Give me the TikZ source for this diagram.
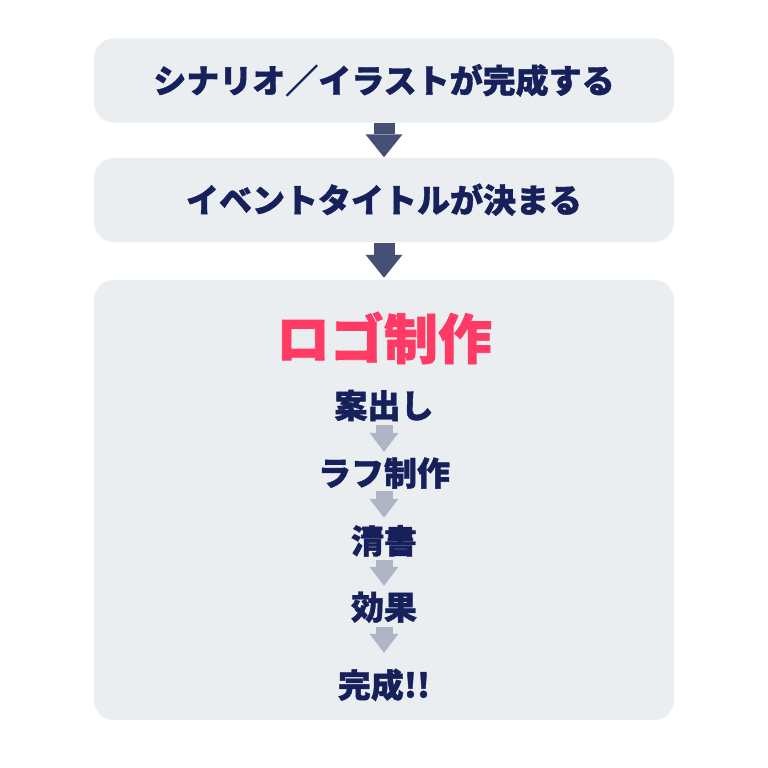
\documentclass[tikz,border=0pt]{standalone}
\usepackage{fontspec}
\newfontfamily\jpfont{Noto Sans CJK JP Black}[FakeBold=1.2]
\usepackage{xcolor}
\definecolor{Flow-box}{RGB}{235, 238, 241}
\definecolor{Flow-navy}{RGB}{22, 33, 92}
\definecolor{Flow-arrow}{RGB}{70, 80, 117}
\definecolor{Flow-grey}{RGB}{176, 181, 197}
\definecolor{Flow-pink}{RGB}{255, 58, 100}
\usetikzlibrary{arrows.meta,positioning,calc}

\begin{document}
\begin{tikzpicture} [
    x=1pt, y=-1pt,
    font=\jpfont\fontsize{33}{33}\selectfont,
    box/.style = {rectangle,rounded corners=20pt,fill=Flow-box,minimum width=580,minimum height=84,
                  text=Flow-navy,inner sep=0,text height=29pt,text depth=4pt},
    steptext/.style = {text=Flow-navy,inner sep=0,text height=29pt,text depth=4pt},
    headline/.style = {text=Flow-pink,inner sep=0,text height=47.5pt,text depth=6.5pt,
                       font=\jpfont\fontsize{54}{54}\selectfont},
    bigarrow/.style = {draw=Flow-arrow,line width=21pt,-{Triangle[width=37pt,length=23pt,line width=0pt]}},
    smallarrow/.style = {draw=Flow-grey,line width=17pt,-{Triangle[width=29pt,length=19pt,line width=0pt]}}
    ]

    \useasboundingbox[fill=white] (0,0) rectangle (768,768);

    \node (scenario) [box] at (384, 80.5) {シナリオ／イラストが完成する};
    \node (title) [box] at (384, 200) {イベントタイトルが決まる};
    \node (logo) [box,minimum height=440] at (384, 500) {};

    \node (logohead) [headline] at (384, 338.5) {ロゴ制作};

    \foreach \name/\txt/\y in {idea/案出し/405.5, rough/ラフ制作/473, clean/清書/541, effect/効果/607, done/完成!!/685}
        \node (\name) [steptext] at (384, \y) {\txt};

    \draw[bigarrow,shorten <=0.5pt,shorten >=0.5pt] (scenario) -- (title);
    \draw[bigarrow,shorten <=0.5pt,shorten >=2pt] (title) -- (logo);

    \foreach \a/\b/\s/\e in {idea/rough/3/4.5, rough/clean/1.5/6.5, clean/effect/2.5/4.5, effect/done/3.5/15.5}
        \draw[smallarrow,shorten <=\s pt,shorten >=\e pt] (\a) -- (\b);

\end{tikzpicture}
\end{document}
